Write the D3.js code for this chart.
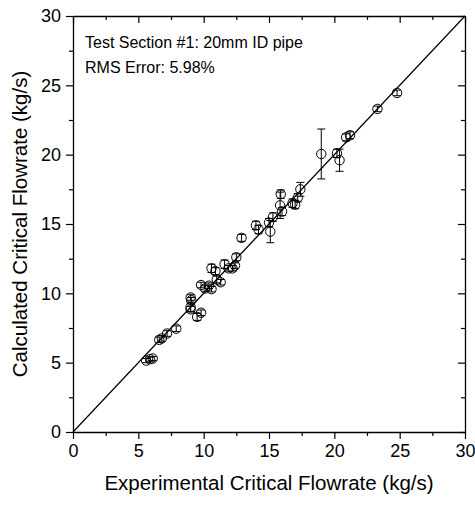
<!DOCTYPE html>
<html><head><meta charset="utf-8">
<script src="https://cdn.jsdelivr.net/npm/d3@7"></script>
<style>body{margin:0;background:#fff}svg{display:block}text{font-family:"Liberation Sans",Arial,sans-serif;fill:#000}</style>
</head><body><svg id="c" width="475" height="507"></svg>
<script>
const expFlow = [5.6,5.9,6.1,6.6,6.8,7.2,7.9,9.0,9.05,9.0,9.0,9.5,9.8,9.8,10.1,10.4,10.6,10.6,10.9,11.0,11.3,11.6,11.9,12.2,12.4,12.5,12.9,14.0,14.2,15.0,15.1,15.3,15.85,15.9,16.0,16.8,17.0,17.2,17.4,19.0,20.2,20.4,20.9,21.2,23.3,24.8];
const calcFlow = [5.15,5.25,5.3,6.65,6.75,7.1,7.45,9.7,9.5,9.0,8.85,8.3,8.6,10.6,10.35,10.55,11.8,10.3,11.6,11.0,10.8,12.1,11.8,11.8,12.0,12.6,14.0,14.9,14.6,15.1,14.45,15.5,16.35,17.15,15.9,16.5,16.4,16.9,17.5,20.05,20.1,19.6,21.25,21.4,23.3,24.45];
const calcErr = [0.15,0.15,0.15,0.2,0.2,0.2,0.2,0.2,0.2,0.3,0.2,0.25,0.2,0.2,0.2,0.2,0.3,0.2,0.25,0.25,0.2,0.3,0.2,0.2,0.2,0.25,0.25,0.3,0.3,0.3,0.8,0.3,0.95,0.3,0.3,0.3,0.3,0.3,0.5,1.8,0.3,0.8,0.25,0.25,0.2,0.2];
const ticks = [0,5,10,15,20,25,30];
const minorTicks = [2.5,7.5,12.5,17.5,22.5,27.5];
const annotation = ["Test Section #1: 20mm ID pipe","RMS Error: 5.98%"];
const xTitle = "Experimental Critical Flowrate (kg/s)";
const yTitle = "Calculated Critical Flowrate (kg/s)";

const L=73,R=465,T=16,B=432;
const svg=d3.select("#c");
const x=d3.scaleLinear().domain([0,30]).range([L,R]);
const y=d3.scaleLinear().domain([0,30]).range([B,T]);

function ax(gen,tr,size,labels){
  const g=svg.append("g").attr("transform",tr).call(gen.tickValues(ticks).tickSize(size).tickSizeOuter(0).tickPadding(5).tickFormat(labels?d3.format("d"):""));
  g.select(".domain").attr("stroke","#000").attr("stroke-width",1.3);
  g.selectAll(".tick line").attr("stroke","#000").attr("stroke-width",1.2);
  g.selectAll("text").style("font-size","18px");
  return g;
}
function minor(gen,tr,size){
  const g=svg.append("g").attr("transform",tr).call(gen.tickValues(minorTicks).tickSize(size).tickFormat(""));
  g.select(".domain").remove();
  g.selectAll(".tick line").attr("stroke","#000").attr("stroke-width",1.2);
}
ax(d3.axisBottom(x),`translate(0,${B})`,7,true);
minor(d3.axisBottom(x),`translate(0,${B})`,4);
ax(d3.axisLeft(y),`translate(${L},0)`,7,true);
minor(d3.axisLeft(y),`translate(${L},0)`,4);
ax(d3.axisTop(x),`translate(0,${T})`,-7,false);
minor(d3.axisTop(x),`translate(0,${T})`,-4);
ax(d3.axisRight(y),`translate(${R},0)`,-7,false);
minor(d3.axisRight(y),`translate(${R},0)`,-4);

// 1:1 line
svg.append("line").attr("x1",x(0)).attr("y1",y(0)).attr("x2",x(30)).attr("y2",y(30)).attr("stroke","#000").attr("stroke-width",1.2);

const data=expFlow.map((v,i)=>({x:v,y:calcFlow[i],e:calcErr[i]}));
const g=svg.append("g").attr("stroke","#000").attr("stroke-width",1).attr("fill","none");
data.forEach(d=>{
  const cx=x(d.x),y1=y(d.y+d.e),y0=y(d.y-d.e);
  g.append("line").attr("x1",cx).attr("x2",cx).attr("y1",y1).attr("y2",y0);
  g.append("line").attr("x1",cx-4).attr("x2",cx+4).attr("y1",y1).attr("y2",y1);
  g.append("line").attr("x1",cx-4).attr("x2",cx+4).attr("y1",y0).attr("y2",y0);
});
g.selectAll("circle").data(data).join("circle").attr("cx",d=>x(d.x)).attr("cy",d=>y(d.y)).attr("r",4.7);

svg.append("text").attr("x",85).attr("y",48).style("font-size","16px").text(annotation[0]);
svg.append("text").attr("x",85).attr("y",73).style("font-size","16px").text(annotation[1]);
svg.append("text").attr("x",(L+R)/2).attr("y",490).attr("text-anchor","middle").style("font-size","20.5px").text(xTitle);
svg.append("text").attr("transform",`translate(27,${(T+B)/2}) rotate(-90)`).attr("text-anchor","middle").style("font-size","20.5px").text(yTitle);
</script></body></html>
